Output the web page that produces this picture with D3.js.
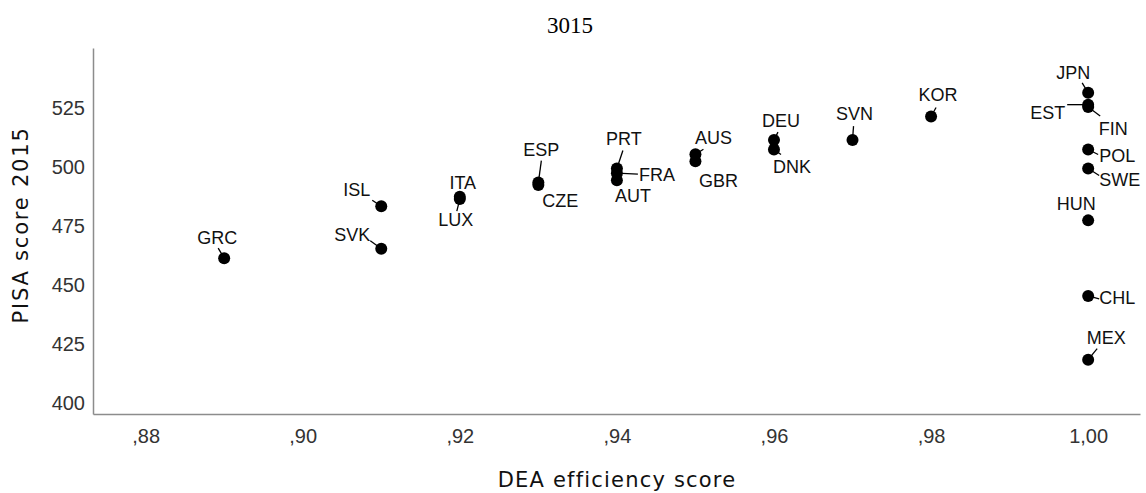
<!DOCTYPE html>
<html>
<head>
<meta charset="utf-8">
<script src="https://cdn.jsdelivr.net/npm/d3@7"></script>
<style>
  html, body { margin: 0; padding: 0; background: #fff; }
  svg { display: block; }
</style>
</head>
<body>
<svg id="chart" width="1146" height="493"></svg>
<script>
// ---- data ----
const countries = ["GRC","ISL","SVK","ITA","LUX","ESP","CZE","PRT","FRA","AUT","AUS","GBR","DEU","DNK","SVN","KOR","JPN","EST","FIN","POL","SWE","HUN","CHL","MEX"];
const deaScores = [0.89,0.91,0.91,0.92,0.92,0.93,0.93,0.94,0.94,0.94,0.95,0.95,0.96,0.96,0.97,0.98,1.00,1.00,1.00,1.00,1.00,1.00,1.00,1.00];
const pisaScores = [461,483,465,487,486,493,492,499,497,494,505,502,511,507,511,521,531,526,525,507,499,477,445,418];
const xTickValues = [0.88,0.90,0.92,0.94,0.96,0.98,1.00];
const xTickLabels = [",88",",90",",92",",94",",96",",98","1,00"];
const yTickValues = [400,425,450,475,500,525];
const titleText = "3015";
const xTitle = "DEA efficiency score";
const yTitle = "PISA score 2015";

// ---- label layout (offsets relative to each point: text dx, dy, anchor, leader end dx, dy) ----
const labelLayout = {
  GRC:[-7,-14,"middle",-6,-10], ISL:[-11,-10,"end",-9,-6], SVK:[-11,-8,"end",-11,-8],
  ITA:[3,-8,"middle",null,null], LUX:[-4,27,"middle",-3,12], ESP:[3,-27,"middle",3,-22],
  CZE:[22,22,"middle",null,null], PRT:[7,-23,"middle",6,-18], FRA:[22,8,"start",21,1],
  AUT:[16,22,"middle",null,null], AUS:[18,-10,"middle",8,-5], GBR:[23,26,"middle",null,null],
  DEU:[7,-13,"middle",4,-8], DNK:[18,23,"middle",7,5], SVN:[2,-20,"middle",1,-14],
  KOR:[7,-15,"middle",5,-9], JPN:[-15,-14,"middle",-6,-10], EST:[-23,14,"end",-21,0],
  FIN:[25,28,"middle",12,9], POL:[11,12,"start",10,5], SWE:[11,18,"start",11,7],
  HUN:[-12,-10,"middle",null,null], CHL:[11,8,"start",11,3], MEX:[18,-16,"middle",9,-11]
};

const svg = d3.select("#chart");
const plot = {left: 93, right: 1140, top: 48, bottom: 414};

const x = d3.scaleLinear().domain([0.8733, 1.0066]).range([plot.left, plot.right]);
const y = d3.scaleLinear().domain([395, 550]).range([plot.bottom, plot.top]);

// axes
const xAxis = d3.axisBottom(x).tickValues(xTickValues)
  .tickFormat((d, i) => xTickLabels[i]).tickSize(0).tickPadding(15);
const yAxis = d3.axisLeft(y).tickValues(yTickValues)
  .tickFormat(d3.format("d")).tickSize(0).tickPadding(8);

const gx = svg.append("g").attr("transform", `translate(0,${plot.bottom})`).call(xAxis);
const gy = svg.append("g").attr("transform", `translate(${plot.left},0)`).call(yAxis);
[gx, gy].forEach(g => {
  g.select(".domain").attr("stroke", "#8c8c8c").attr("stroke-width", 1.5);
  g.selectAll("text").attr("font-family", "'Liberation Sans', Arial, sans-serif")
    .attr("font-size", 20).attr("fill", "#333");
});
gy.selectAll("text").attr("dy", "0.35em");
gx.selectAll("text").attr("dy", "0.71em");

// points
const data = countries.map((c, i) => ({c, x: deaScores[i], y: pisaScores[i]}));

// leader lines
svg.append("g").selectAll("line")
  .data(data.filter(d => labelLayout[d.c][3] !== null))
  .join("line")
  .attr("x1", d => x(d.x)).attr("y1", d => y(d.y))
  .attr("x2", d => x(d.x) + labelLayout[d.c][3])
  .attr("y2", d => y(d.y) + labelLayout[d.c][4])
  .attr("stroke", "#000").attr("stroke-width", 1.3);

svg.append("g").selectAll("circle").data(data).join("circle")
  .attr("cx", d => x(d.x)).attr("cy", d => y(d.y)).attr("r", 6)
  .attr("fill", "#000");

svg.append("g").selectAll("text").data(data).join("text")
  .attr("x", d => x(d.x) + labelLayout[d.c][0])
  .attr("y", d => y(d.y) + labelLayout[d.c][1])
  .attr("text-anchor", d => labelLayout[d.c][2])
  .attr("font-family", "'Liberation Sans', Arial, sans-serif")
  .attr("font-size", 18).attr("fill", "#111")
  .text(d => d.c);

// titles
svg.append("text").attr("x", 570).attr("y", 33).attr("text-anchor", "middle")
  .attr("font-family", "'Liberation Serif', 'Times New Roman', serif")
  .attr("font-size", 23).attr("fill", "#000").text(titleText);

svg.append("text").attr("x", 617).attr("y", 487).attr("text-anchor", "middle")
  .attr("font-family", "'DejaVu Sans', Verdana, sans-serif")
  .attr("font-size", 21).attr("letter-spacing", 1.2).attr("fill", "#111").text(xTitle);

svg.append("text").attr("transform", "translate(28,225) rotate(-90)")
  .attr("text-anchor", "middle")
  .attr("font-family", "'DejaVu Sans', Verdana, sans-serif")
  .attr("font-size", 21).attr("letter-spacing", 1.8).attr("fill", "#111").text(yTitle);
</script>
</body>
</html>
